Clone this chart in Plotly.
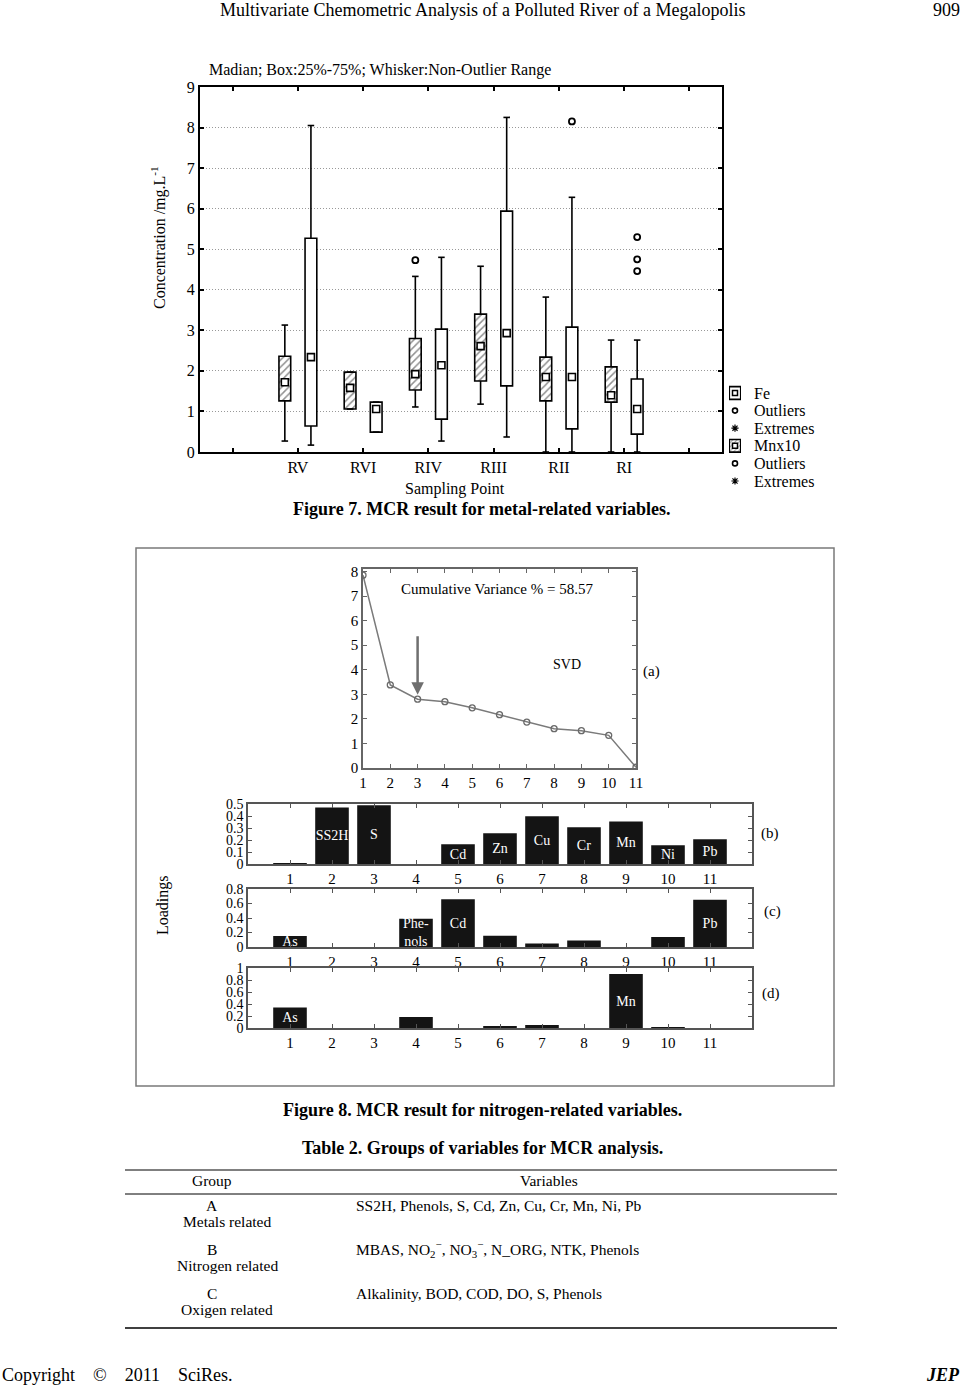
import plotly.graph_objects as go

FONT = "Liberation Serif"
W, H = 965, 1386

# ---------------- data: Figure 7 (box plot) ----------------
cats = ["RV", "RVI", "RIV", "RIII", "RII", "RI"]
mn_low = [0.27, 1.06, 1.11, 1.18, 0.0, 0.0]
mn_q1 = [1.26, 1.06, 1.53, 1.75, 1.26, 1.23]
mn_med = [1.72, 1.58, 1.92, 2.61, 1.85, 1.40]
mn_q3 = [2.36, 1.97, 2.80, 3.40, 2.34, 2.10]
mn_high = [3.13, 1.97, 4.33, 4.58, 3.82, 2.76]
fe_low = [0.17, 0.49, 0.27, 0.37, 0.0, 0.0]
fe_q1 = [0.64, 0.49, 0.81, 1.63, 0.57, 0.44]
fe_med = [2.34, 1.06, 2.14, 2.93, 1.85, 1.06]
fe_q3 = [5.27, 1.23, 3.03, 5.94, 3.08, 1.80]
fe_high = [8.05, 1.23, 4.80, 8.25, 6.28, 2.76]
mn_out_cat = ["RIV"]
mn_out_val = [4.73]
fe_out_cat = ["RII", "RI", "RI", "RI"]
fe_out_val = [8.15, 5.30, 4.75, 4.46]
legend_names = ["Fe", "Outliers", "Extremes", "Mnx10", "Outliers", "Extremes"]

# ---------------- data: Figure 8 ----------------
svd_x = [1, 2, 3, 4, 5, 6, 7, 8, 9, 10, 11]
svd_y = [7.85, 3.38, 2.80, 2.70, 2.45, 2.17, 1.87, 1.60, 1.52, 1.33, 0.03]
load_x = [1, 2, 3, 4, 5, 6, 7, 8, 9, 10, 11]
b_vals = [0.006, 0.47, 0.49, 0.0, 0.165, 0.256, 0.397, 0.307, 0.354, 0.157, 0.207]
b_labels = ["", "SS2H", "S", "", "Cd", "Zn", "Cu", "Cr", "Mn", "Ni", "Pb"]
c_vals = [0.15, 0.0, 0.0, 0.39, 0.66, 0.155, 0.047, 0.09, 0.0, 0.137, 0.65]
c_labels = ["As", "", "", "Phe-<br>nols", "Cd", "", "", "", "", "", "Pb"]
d_vals = [0.34, 0.0, 0.0, 0.185, 0.0, 0.02, 0.05, 0.0, 0.9, 0.015, 0.0]
d_labels = ["As", "", "", "", "", "", "", "", "Mn", "", ""]

# ---------------- data: Table 2 ----------------
tbl_groups = ["A", "B", "C"]
tbl_names = ["Metals related", "Nitrogen related", "Oxigen related"]
tbl_vars = ["SS2H, Phenols, S, Cd, Zn, Cu, Cr, Mn, Ni, Pb",
            "MBAS, NO<sub>2</sub><sup>\u2212</sup>, NO<sub>3</sub><sup>\u2212</sup>, N_ORG, NTK, Phenols",
            "Alkalinity, BOD, COD, DO, S, Phenols"]


def px(x):
    return x / W


def py(y):
    return 1 - y / H


fig = go.Figure()

# ---------------- Figure 7 ----------------
cat_pos = {c: i + 2 for i, c in enumerate(cats)}
OFF = 0.2
mn_x = [cat_pos[c] - OFF for c in cats]
fe_x = [cat_pos[c] + OFF for c in cats]
HATCH = dict(shape="/", fgcolor="#222", bgcolor="white", size=5, solidity=0.3)


def whiskers(xs, lows, q1s, q3s, highs, cap=0.05):
    wx, wy = [], []
    for x, lo, a, b, hi in zip(xs, lows, q1s, q3s, highs):
        wx += [x, x, None, x, x, None, x - cap, x + cap, None, x - cap, x + cap, None]
        wy += [lo, a, None, b, hi, None, lo, lo, None, hi, hi, None]
    return wx, wy


for xs, lo, a, med, b, hi, pat in [
    (fe_x, fe_low, fe_q1, fe_med, fe_q3, fe_high, False),
    (mn_x, mn_low, mn_q1, mn_med, mn_q3, mn_high, True),
]:
    marker = dict(color="white", line=dict(color="black", width=1.6))
    if pat:
        marker["pattern"] = HATCH
    fig.add_trace(go.Bar(x=xs, y=[q3 - q1 for q1, q3 in zip(a, b)], base=a, width=0.18,
                         marker=marker, showlegend=False, xaxis="x", yaxis="y"))
    wx, wy = whiskers(xs, lo, a, b, hi)
    fig.add_trace(go.Scatter(x=wx, y=wy, mode="lines", line=dict(color="black", width=1.6),
                             showlegend=False, xaxis="x", yaxis="y", hoverinfo="skip"))
    fig.add_trace(go.Scatter(x=xs, y=med, mode="markers",
                             marker=dict(symbol="square", size=7, color="white",
                                         line=dict(color="black", width=1.6)),
                             showlegend=False, xaxis="x", yaxis="y"))

OUT_MARK = dict(symbol="circle-open", size=6, color="black", line=dict(width=1.8))
fig.add_trace(go.Scatter(x=[cat_pos[c] + OFF for c in fe_out_cat], y=fe_out_val, mode="markers",
                         marker=OUT_MARK, showlegend=False, xaxis="x", yaxis="y"))
fig.add_trace(go.Scatter(x=[cat_pos[c] - OFF for c in mn_out_cat], y=mn_out_val, mode="markers",
                         marker=OUT_MARK, showlegend=False, xaxis="x", yaxis="y"))

# ---- manual legend for Figure 7 (own small axis; row index = legend entry) ----
fig.add_trace(go.Bar(x=[0.5, 0.5], y=[0.72, 0.72], base=[-0.36, 2.64], width=0.95,
                     marker=dict(color=["white", "white"], line=dict(color="black", width=1.6),
                                 pattern=dict(shape=["", "/"], fgcolor="#222", bgcolor="white",
                                              size=3, solidity=0.35)),
                     showlegend=False, xaxis="x6", yaxis="y6", hoverinfo="skip"))
fig.add_trace(go.Scatter(x=[0.5, 0.5], y=[0, 3], mode="markers",
                         marker=dict(symbol="square", size=5, color="white",
                                     line=dict(color="black", width=1.5)),
                         showlegend=False, xaxis="x6", yaxis="y6", hoverinfo="skip"))
fig.add_trace(go.Scatter(x=[0.5, 0.5], y=[1, 4], mode="markers",
                         marker=dict(symbol="circle-open", size=5, color="black", line=dict(width=1.6)),
                         showlegend=False, xaxis="x6", yaxis="y6", hoverinfo="skip"))
fig.add_trace(go.Scatter(x=[0.5, 0.5], y=[2, 5], mode="markers",
                         marker=dict(symbol="asterisk-open", size=6, color="black", line=dict(width=1.2)),
                         showlegend=False, xaxis="x6", yaxis="y6", hoverinfo="skip"))

# ---------------- Figure 8 (a) ----------------
fig.add_trace(go.Scatter(x=svd_x, y=svd_y, mode="lines+markers",
                         line=dict(color="#7a7a7a", width=1.5),
                         marker=dict(symbol="circle-open", size=6, color="#6a6a6a", line=dict(width=1.3)),
                         showlegend=False, xaxis="x2", yaxis="y2"))

# ---------------- Figure 8 (b)(c)(d) ----------------
for vals, labels, ax in [(b_vals, b_labels, "3"), (c_vals, c_labels, "4"), (d_vals, d_labels, "5")]:
    fig.add_trace(go.Bar(x=load_x, y=vals, width=0.8, text=labels, textangle=0,
                         textposition="inside", insidetextanchor="middle", constraintext="none",
                         textfont=dict(family=FONT, size=14, color="white"),
                         marker=dict(color="#141414", line=dict(width=0)),
                         showlegend=False, xaxis="x" + ax, yaxis="y" + ax))

# ---------------- axes ----------------
axis_common = dict(showline=True, mirror="ticks", ticks="inside", zeroline=False,
                   tickfont=dict(family=FONT, size=15, color="black"))
fig7_common = dict(axis_common)
fig7_common["tickfont"] = dict(family=FONT, size=16, color="black")

layout = dict(
    width=W, height=H, autosize=False,
    margin=dict(l=0, r=0, t=0, b=0, pad=0, autoexpand=False),
    paper_bgcolor="white", plot_bgcolor="white",
    barmode="overlay",
    font=dict(family=FONT, color="black"),
    showlegend=False,
    xaxis=dict(domain=[px(200), px(722)], range=[0.5, 8.5],
               tickmode="array", tickvals=[1, 2, 3, 4, 5, 6, 7, 8],
               ticktext=[""] + cats + [""], showgrid=False,
               linecolor="black", linewidth=2, ticklen=4, tickwidth=1.5, tickcolor="black",
               anchor="y", **fig7_common),
    yaxis=dict(domain=[py(452), py(87)], range=[0, 9], tickmode="array",
               tickvals=list(range(10)), showgrid=True, gridcolor="#999999", griddash="1px,2px",
               gridwidth=1, linecolor="black", linewidth=2, ticklen=4, tickwidth=1.5,
               tickcolor="black", anchor="x", **fig7_common),
    xaxis2=dict(domain=[px(363), px(636)], range=[1, 11], tickmode="array",
                tickvals=svd_x, showgrid=False, linecolor="#666", linewidth=1.5,
                ticklen=4, tickcolor="#666", anchor="y2", **axis_common),
    yaxis2=dict(domain=[py(768), py(569)], range=[0, 8.1], tickmode="array",
                tickvals=list(range(9)), showgrid=False, linecolor="#666", linewidth=1.5,
                ticklen=4, tickcolor="#666", anchor="x2", **axis_common),
    xaxis6=dict(domain=[px(729), px(741)], range=[0, 1], visible=False, anchor="y6"),
    yaxis6=dict(domain=[py(489.8), py(384.2)], range=[5.5, -0.5], visible=False, anchor="x6"),
)

bar_axes = [("3", 864, 804, [0, 0.5], [0, 0.1, 0.2, 0.3, 0.4, 0.5], ["0", "0.1", "0.2", "0.3", "0.4", "0.5"]),
            ("4", 947, 889, [0, 0.8], [0, 0.2, 0.4, 0.6, 0.8], ["0", "0.2", "0.4", "0.6", "0.8"]),
            ("5", 1028, 968, [0, 1], [0, 0.2, 0.4, 0.6, 0.8, 1], ["0", "0.2", "0.4", "0.6", "0.8", "1"])]
bar_axis_common = dict(axis_common)
bar_axis_common["tickfont"] = dict(family=FONT, size=14, color="black")
for ax, yb, yt, yr, tv, tt in bar_axes:
    layout["xaxis" + ax] = dict(domain=[px(248), px(752)], range=[0, 12], tickmode="array",
                                tickvals=load_x, showgrid=False, linecolor="#555", linewidth=1.5,
                                ticklen=4, tickcolor="#555", anchor="y" + ax, **axis_common)
    layout["yaxis" + ax] = dict(domain=[py(yb), py(yt)], range=yr, tickmode="array",
                                tickvals=tv, ticktext=tt, showgrid=False, linecolor="#555",
                                linewidth=1.5, ticklen=4, tickcolor="#555", anchor="x" + ax,
                                **bar_axis_common)

fig.update_layout(**layout)

# ---------------- annotations ----------------
ann = []


def txt(x, y, s, size=15, xanchor="center", bold=False, italic=False, angle=0, color="black"):
    if bold:
        s = "<b>" + s + "</b>"
    if italic:
        s = "<i>" + s + "</i>"
    ann.append(dict(x=px(x), y=py(y), xref="paper", yref="paper", text=s, showarrow=False,
                    xanchor=xanchor, yanchor="middle", textangle=angle,
                    font=dict(family=FONT, size=size, color=color)))


NB = "\u00a0"
# page header / footer
txt(482, 10, "Multivariate Chemometric Analysis of a Polluted River of a Megalopolis", size=18)
txt(962, 10, "909", size=18, xanchor="right")
txt(0, 1375, "Copyright" + NB * 4 + "\u00a9" + NB * 4 + "2011" + NB * 4 + "SciRes.", size=18, xanchor="left")
txt(962, 1375, "JEP", size=18, xanchor="right", bold=True, italic=True)

# Figure 7 texts
txt(207, 70, "Madian; Box:25%-75%; Whisker:Non-Outlier Range", size=16, xanchor="left")
txt(158, 238, "Concentration /mg.L<sup>-1</sup>", size=16, angle=-90)
txt(455, 489, "Sampling Point", size=16)
txt(482, 509, "Figure 7. MCR result for metal-related variables.", size=18, bold=True)
for i, name in enumerate(legend_names):
    txt(752, 393 + i * 17.6, name, size=16, xanchor="left")

# Figure 8 texts
txt(497, 589, "Cumulative Variance % = 58.57", size=15)
txt(567, 664, "SVD", size=14)
txt(651, 671, "(a)", size=15)
txt(770, 833, "(b)", size=15)
txt(772, 911, "(c)", size=15)
txt(771, 993, "(d)", size=15)
txt(163, 905, "Loadings", size=16, angle=-90)
txt(482, 1110, "Figure 8. MCR result for nitrogen-related variables.", size=18, bold=True)

ann.append(dict(x=3, y=2.98, ax=3, ay=5.42, xref="x2", yref="y2", axref="x2", ayref="y2",
                showarrow=True, arrowhead=2, arrowsize=1, arrowwidth=2.5, arrowcolor="#6f6f6f", text=""))

# Table 2
txt(482, 1148, "Table 2. Groups of variables for MCR analysis.", size=18, bold=True)
txt(212, 1180, "Group", size=15.5)
txt(549, 1180, "Variables", size=15.5)
for i, (g, n, v) in enumerate(zip(tbl_groups, tbl_names, tbl_vars)):
    y0 = 1205 + i * 44
    txt(212, y0, g, size=15.5)
    txt(227, y0 + 16, n, size=15.5)
    txt(354, y0, v, size=15.5, xanchor="left")

fig.update_layout(annotations=ann)

# ---------------- shapes ----------------
shapes = [
    dict(type="rect", xref="paper", yref="paper", x0=px(136), x1=px(834), y0=py(1086), y1=py(548),
         line=dict(color="#7a7a7a", width=1.5)),
    dict(type="line", xref="paper", yref="paper", x0=px(125), x1=px(837), y0=py(1170), y1=py(1170),
         line=dict(color="black", width=1)),
    dict(type="line", xref="paper", yref="paper", x0=px(125), x1=px(837), y0=py(1194), y1=py(1194),
         line=dict(color="black", width=1)),
    dict(type="line", xref="paper", yref="paper", x0=px(125), x1=px(837), y0=py(1328), y1=py(1328),
         line=dict(color="black", width=1.5)),
]
fig.update_layout(shapes=shapes)

fig.write_html("out.html", config={"displayModeBar": False},
               post_script="document.body.style.margin='0px';document.body.style.overflow='hidden';")
